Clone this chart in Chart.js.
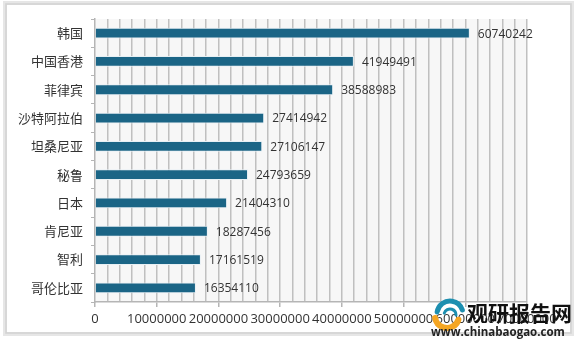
<!DOCTYPE html>
<html><head><meta charset="utf-8">
<script src="https://cdn.jsdelivr.net/npm/chart.js@4/dist/chart.umd.min.js"></script>
<style>html,body{margin:0;padding:0;background:#fff}#w{width:578px;height:342px;position:relative}</style>
</head><body><div id="w"><canvas id="c" width="578" height="342"></canvas></div>
<script>
const categories = ['韩国','中国香港','菲律宾','沙特阿拉伯','坦桑尼亚','秘鲁','日本','肯尼亚','智利','哥伦比亚'];
const values = [60740242,41949491,38588983,27414942,27106147,24793659,21404310,18287456,17161519,16354110];
const xMax = 70000000;
const xStep = 2000000;
const xMajor = 10000000;

const cjk = '"Noto Sans CJK SC", "Noto Sans", sans-serif';
const num = '"Open Sans", "Noto Sans", sans-serif';

const framePlugin = {
  id: 'frame',
  beforeDraw(chart) {
    const ctx = chart.ctx, a = chart.chartArea;
    ctx.save();
    ctx.fillStyle = '#ffffff';
    ctx.fillRect(0, 0, chart.width, chart.height);
    ctx.strokeStyle = '#e6e6e6'; ctx.lineWidth = 4;
    ctx.strokeRect(5, 3, 567, 331);
    ctx.strokeStyle = '#d2d2d2'; ctx.lineWidth = 1.5;
    ctx.strokeRect(6, 4, 565, 329);
    ctx.fillStyle = '#f7f7f7';
    ctx.fillRect(a.left, a.top, a.right - a.left, a.bottom - a.top);
    ctx.restore();
  },
  afterDraw(chart) {
    const ctx = chart.ctx;
    const meta = chart.getDatasetMeta(0);
    ctx.save();
    ctx.font = '12px ' + num;
    ctx.fillStyle = '#333333';
    ctx.textBaseline = 'middle';
    ctx.textAlign = 'left';
    meta.data.forEach((bar, i) => {
      ctx.fillText(String(values[i]), bar.x + 8, bar.y + 1);
    });
    // watermark
    const cx = 447, cy = 315;
    ctx.lineCap = 'round';
    ctx.strokeStyle = '#1d8fb0'; ctx.lineWidth = 5;
    ctx.beginPath(); ctx.arc(cx + 3, cy - 1, 13, Math.PI * 1.05, Math.PI * 1.9); ctx.stroke();
    ctx.strokeStyle = '#f5a623'; ctx.lineWidth = 6;
    ctx.beginPath(); ctx.arc(cx, cy + 1, 12, Math.PI * 0.1, Math.PI * 0.95); ctx.stroke();
    ctx.strokeStyle = '#1d8fb0'; ctx.lineWidth = 3;
    ctx.beginPath(); ctx.arc(cx + 3, cy, 6, Math.PI * 1.1, Math.PI * 2.0); ctx.stroke();
    ctx.fillStyle = '#111111';
    ctx.font = 'bold 21px ' + cjk;
    ctx.textBaseline = 'middle';
    ctx.fillText('观研报告网', 467, 313);
    ctx.font = 'bold 11.5px ' + num;
    ctx.fillStyle = '#222222';
    ctx.fillText('www.chinabaogao.com', 431, 333);
    ctx.restore();
  }
};

new Chart(document.getElementById('c'), {
  type: 'bar',
  data: {
    labels: categories,
    datasets: [{
      data: values,
      backgroundColor: '#1b6586',
      borderColor: '#e8f0f4',
      borderWidth: 1,
      borderSkipped: 'left',
      barPercentage: 0.38,
      categoryPercentage: 1.0
    }]
  },
  options: {
    indexAxis: 'y',
    responsive: false,
    animation: false,
    events: [],
    layout: { padding: { left: 0, right: 51, top: 19, bottom: 0 } },
    plugins: { legend: { display: false }, tooltip: { enabled: false } },
    scales: {
      x: {
        min: 0, max: xMax,
        afterFit(s) { s.height = 40; },
        afterBuildTicks(s) {
          const t = [];
          for (let v = 0; v <= xMax; v += xStep) t.push({ value: v });
          s.ticks = t;
        },
        border: { display: true, color: '#b5b5b5', width: 1.5 },
        grid: {
          color: (c) => c.tick && c.tick.value === 0 ? 'rgba(0,0,0,0)' : '#c0c0c0',
          lineWidth: 1.5,
          drawTicks: true,
          tickLength: 5,
          tickColor: (c) => c.tick && c.tick.value % xMajor === 0 ? '#b5b5b5' : 'rgba(0,0,0,0)'
        },
        ticks: {
          autoSkip: false, maxRotation: 0, minRotation: 0,
          padding: 4,
          color: '#333333',
          font: { family: num, size: 13 },
          callback: (v) => (v % xMajor === 0 ? String(v) : '')
        }
      },
      y: {
        afterFit(s) { s.width = 95; },
        border: { display: true, color: '#b5b5b5', width: 1.5 },
        grid: {
          offset: true,
          drawOnChartArea: false,
          drawTicks: true,
          tickLength: 4,
          tickColor: '#b5b5b5'
        },
        ticks: {
          color: '#333333',
          padding: 8,
          font: { family: cjk, size: 13 }
        }
      }
    }
  },
  plugins: [framePlugin]
});
</script></body></html>
